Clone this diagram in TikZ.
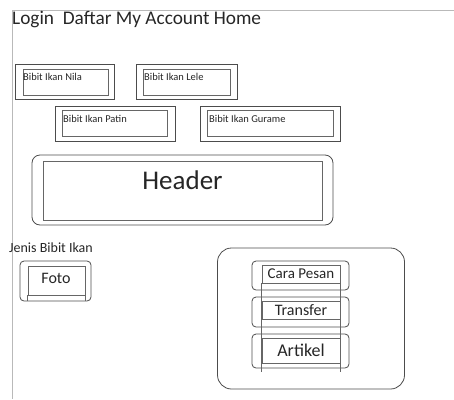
\documentclass[tikz,border=0pt]{standalone}
\usepackage{fontspec}
\setmainfont{Carlito}
\usetikzlibrary{positioning}

\begin{document}
\begin{tikzpicture}[x=1pt, y=-1pt,
    frame/.style={draw=gray!55, line width=0.9pt},
    outer/.style={draw=black!70, line width=0.8pt, inner sep=0pt},
    inner/.style={draw=black!60, line width=0.7pt, inner sep=0pt},
    lbl/.style={text=black!85, inner sep=0pt},
    fishbox/.style={outer, minimum height=35pt},
    fishin/.style={inner, minimum height=26pt},
    fishlbl/.style={lbl, anchor=west, font=\fontsize{10.5}{12}\selectfont},
    menubox/.style={outer, rounded corners=4pt, minimum width=97pt},
    menuin/.style={inner, minimum width=78pt},
    menulbl/.style={lbl}
]
\useasboundingbox (0,0) rectangle (454,399);
\coordinate (tl) at (12,10);
\coordinate (tr) at (454,10);
\coordinate (bl) at (12,399);
\draw[frame] (tr) -- (tl) -- (bl);

\node[lbl, anchor=base west, font=\fontsize{19.3}{23}\selectfont] (menu) at (12,24) {Login\ \ Daftar My Account Home};

\node[fishbox, minimum width=99pt]  (nila)    at (64.5,81.5) {};
\node[fishin,  minimum width=85pt]  (nilain)  at (65.5,82) {};
\node[fishlbl] (nilalbl) at (23,77) {Bibit Ikan Nila};

\node[fishbox, minimum width=101pt] (lele)    at (186.5,81.5) {};
\node[fishin,  minimum width=87pt]  (lelein)  at (186.5,82) {};
\node[fishlbl] (lelelbl) at (144,77) {Bibit Ikan Lele};

\node[fishbox, minimum width=120pt] (patin)   at (115,123.5) {};
\node[fishin,  minimum width=105pt] (patinin) at (114.5,123.5) {};
\node[fishlbl] (patinlbl) at (63,119) {Bibit Ikan Patin};

\node[fishbox, minimum width=140pt] (gurame)   at (270,123.5) {};
\node[fishin,  minimum width=126pt] (guramein) at (270,123.5) {};
\node[fishlbl] (guramelbl) at (209,119) {Bibit Ikan Gurame};

\node[outer, rounded corners=8pt, minimum width=301pt, minimum height=70pt] (header) at (182.5,190) {};
\node[inner, minimum width=279pt, minimum height=59pt] (headerin) at (182.5,190.5) {};
\node[lbl, font=\fontsize{27}{32}\selectfont] (headerlbl) at (182.5,180) {Header};

\node[lbl, anchor=base west, font=\fontsize{14}{17}\selectfont] (jenis) at (9,252) {Jenis Bibit Ikan};

\node[outer, rounded corners=4pt, minimum width=71pt, minimum height=40pt] (foto) at (55.5,281) {};
\node[inner, minimum width=57pt, minimum height=29pt] (fotoin) at (56.5,280.5) {};
\draw[inner] (fotoin.south west) -- (fotoin.south west |- foto.south);
\draw[inner] (fotoin.south east) -- (fotoin.south east |- foto.south);
\node[lbl, font=\fontsize{16}{19}\selectfont] (fotolbl) at (56,278) {Foto};

\node[outer, rounded corners=14pt, minimum width=187pt, minimum height=141pt] (side) at (311,318.5) {};

\node[menubox, minimum height=29pt] (cara)     at (300.5,275.5) {};
\node[menubox, minimum height=30pt] (transfer) at (300.5,312) {};
\node[menubox, minimum height=34pt] (artikel)  at (300.5,351) {};
\node[menuin, minimum height=18pt] (carain)     at (301,274) {};
\node[menuin, minimum height=18pt] (transferin) at (301,310) {};
\node[menuin, minimum height=25pt] (artikelin)  at (301,350.5) {};
\coordinate (menuend) at (301,372);
\draw[inner] (carain.south west) -- (carain.south west |- menuend);
\draw[inner] (carain.south east) -- (carain.south east |- menuend);
\node[menulbl, font=\fontsize{15}{18}\selectfont] (caralbl)     at (carain) {Cara Pesan};
\node[menulbl, font=\fontsize{16}{19}\selectfont] (transferlbl) at (transferin) {Transfer};
\node[menulbl, font=\fontsize{18}{21}\selectfont] (artikellbl)  at (artikelin) {Artikel};
\end{tikzpicture}
\end{document}
